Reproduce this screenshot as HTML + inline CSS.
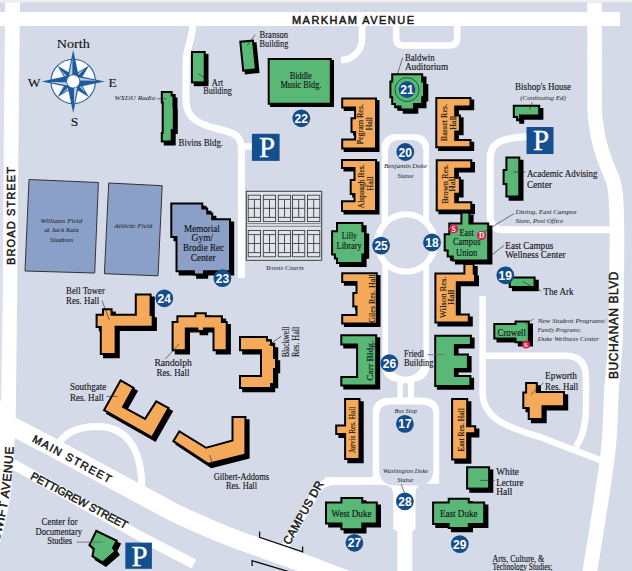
<!DOCTYPE html>
<html><head><meta charset="utf-8">
<style>
html,body{margin:0;padding:0;background:#d5dae9;}
svg{display:block;}
text{font-family:"Liberation Serif",serif;fill:#111;stroke:#111;stroke-width:0.12;}
.st text{font-family:"Liberation Sans",sans-serif;font-weight:normal;fill:#1a1a1a;stroke:#1a1a1a;stroke-width:0.5;}
.it{font-style:italic;}
.g{fill:#59b875;stroke:#000;stroke-width:2;stroke-linejoin:miter;}
.o{fill:#f4aa5a;stroke:#000;stroke-width:2;}
.b{fill:#8b9fc7;stroke:#000;stroke-width:2;}
.sh{fill:#000;}
.bd{fill:#144d89;}
.bt{font-family:"Liberation Sans",sans-serif;font-weight:bold;fill:#fff;stroke:none;font-size:12px;text-anchor:middle;}
.road{fill:none;stroke:#fff;}
.lb{font-size:9.5px;}
.sm text{font-style:italic;stroke:none;fill:#1a1a1a;}
</style></head>
<body>
<svg width="632" height="571" viewBox="0 0 632 571">
<rect x="0" y="0" width="632" height="571" fill="#d5dae9"/>
<rect x="0" y="0" width="632" height="2" fill="#efefef"/>
<rect x="0" y="2" width="632" height="1" fill="#dfe1e8"/>
<rect x="0" y="26" width="5" height="400" fill="#dbdfed"/>

<!-- ROADS -->
<g id="roads" fill="#fff">
  <rect x="0" y="12" width="620" height="14"/>
  <polygon points="5.2,2.4 20,2.4 18.4,150 17.2,290 16,400 15.3,430 13.8,455 12.5,475.5 10.2,498 5.7,521 1.1,539 -3,552 -20,571 -20,420 1.2,400 2.9,290 3.7,150"/>
  
</g>
<g class="road">
  <path d="M594.6,2.8 C594.6,15.0 594.4,79.0 594.6,100.0 C594.8,121.0 595.0,116.3 596.0,124.0 C597.0,131.7 598.4,138.8 600.3,146.0 C602.2,153.2 605.2,160.8 607.5,167.0 C609.8,173.2 612.4,177.5 613.8,183.0 C615.2,188.5 615.5,190.5 616.0,200.0 C616.5,209.5 617.1,216.7 617.0,240.0 C616.9,263.3 616.2,314.7 615.3,340.0 C614.4,365.3 612.7,372.8 611.4,392.0 C610.1,411.2 611.3,425.2 607.7,455.0 C604.1,484.8 593.3,550.2 590.0,571.0 C586.7,591.8 588.3,578.5 588.0,580.0" stroke-width="14.6"/>
  <path d="M362,20 L362,39 A21,21 0 0 1 341,60" stroke-width="6.6"/>
  <path d="M396.2,20 V38 Q396.2,45.5 403.7,45.5 H449.7 Q457.2,45.5 457.2,38 V20" stroke-width="6.5"/>
  <path d="M192.5,26 C192.5,40 186,48 186,62 L186,100 C186,118 198,124 218,129 C236,133 241.4,136 241.4,150 L241.4,278" stroke-width="7"/>
  <path d="M243,146.5 H253" stroke-width="6.5"/>
  <!-- east campus -->
  <path d="M527,136.5 C505,138 490.2,141 490.2,158 V215 Q490.2,229.7 503,229.7 H615" stroke-width="7"/>
  <path d="M482.6,296 V392 C482.6,420 510,428 540,437 L600,460" stroke-width="6.5"/>
  <path d="M485,355.7 H566 Q586,356 586,378 V408 Q586,432 576,447" stroke-width="6.5"/>
  <!-- bottom left -->
  <path d="M-12.0,413.0 C-10.0,414.1 -4.6,417.0 0.0,419.5 C4.6,422.0 7.5,423.8 15.8,428.2 C24.1,432.6 32.6,436.7 50.0,445.9 C67.4,455.1 101.7,473.8 120.0,483.6 C138.3,493.5 150.0,499.7 160.0,505.0 C170.0,510.3 168.3,510.1 180.0,515.4 C191.7,520.7 210.0,529.2 230.0,537.0 C250.0,544.8 280.4,554.8 300.0,562.0 C319.6,569.2 330.8,574.0 347.5,580.0 C364.2,586.0 391.2,595.0 400.0,598.0" stroke-width="18.5"/>
  <path d="M-10,451.5 L20,468 C60,490.5 100,513.5 132.7,532 C150,541.5 172,552.5 194,564" stroke-width="10"/>
  <path d="M58,448 C61,433 78,426.5 98,426.5 C122,426.5 141.8,443 141.8,488" stroke-width="7"/>
  <path d="M282,552.5 L315.2,493.3 Q322,481 336,481 H378" stroke-width="7.6"/>
</g>
<!-- central column -->
<g fill="#fff">
  <path d="M381.7,250 V147.3 A13,13 0 0 1 394.7,134.3 H416 A13,13 0 0 1 429,147.3 V250 Z"/>
  <path d="M382.4,240 V366.7 A15,15 0 0 0 397.4,381.7 V400 H414.1 V381.7 A15,15 0 0 0 429.1,366.7 V240 Z"/>
</g>
<g fill="#d5dae9">
  <path d="M388,250 V150.5 A10.5,10.5 0 0 1 398.5,140 H412.8 A10.5,10.5 0 0 1 423.3,150.5 V250 Z"/>
  <path d="M388,240 V359 A17.65,17.65 0 0 0 423.3,359 V240 Z"/>
</g>
<circle cx="406.1" cy="243" r="28.65" fill="none" stroke="#fff" stroke-width="6.3"/>
<circle cx="406.1" cy="243" r="25.5" fill="#d5dae9"/>
<rect x="402.8" y="382.8" width="5.1" height="16" rx="2.5" fill="#d5dae9"/>
<!-- loop near bus stop -->
<path d="M372.7,412 C372.7,402 380,397.6 392,397.6 H420 C432,397.6 439.2,402 439.2,412 V571 H372.7 Z" fill="#fff"/>
<rect x="325" y="477.1" width="50" height="7.6" fill="#fff"/>
<path d="M379.2,415 C379.2,408 383,404.5 392,404.5 H420.5 C429.5,404.5 433.4,408 433.4,415 V469 Q433.4,485.5 417,485.5 H395.5 Q379.2,485.5 379.2,469 Z" fill="#d5dae9"/>
<path d="M366,484.7 H383.3 Q393.3,484.7 393.3,494.7 V529 L397.4,531.5 V572 H366 Z" fill="#d5dae9"/>
<path d="M446,483.7 H425.5 Q415.5,483.7 415.5,493.7 V529 L412.3,531.5 V572 H446 Z" fill="#d5dae9"/>
<!-- bridge brackets -->
<g fill="none" stroke="#111" stroke-width="1.3">
  <polyline points="259.6,531.5 259.6,537.3 302.6,551.8 302.6,546.5"/>
  <polyline points="252.1,566 252.1,560.7 290,572"/>
</g>

<!-- Tennis courts -->
<g>
  <rect x="246.3" y="191.3" width="75.4" height="69" fill="#e2e4eb" stroke="#3c3c44" stroke-width="1"/>
  <line x1="246.3" y1="223.6" x2="321.7" y2="223.6" stroke="#666" stroke-width="0.8"/>
  <line x1="246.3" y1="226.3" x2="321.7" y2="226.3" stroke="#666" stroke-width="0.8"/>
  <g id="court" fill="none" stroke="#3c3c44" stroke-width="0.9">
    <rect x="248.2" y="195.2" width="12.3" height="26.4"/>
    <line x1="248.2" y1="199.4" x2="260.5" y2="199.4"/>
    <line x1="248.2" y1="208.3" x2="260.5" y2="208.3"/>
    <line x1="248.2" y1="217.4" x2="260.5" y2="217.4"/>
    <line x1="254.4" y1="199.4" x2="254.4" y2="217.4"/>
  </g>
  <use href="#court" x="15.1"/><use href="#court" x="30.1"/><use href="#court" x="44.3"/><use href="#court" x="59.3"/>
  <use href="#court" y="35.2"/><use href="#court" x="15.1" y="35.2"/><use href="#court" x="30.1" y="35.2"/><use href="#court" x="44.3" y="35.2"/><use href="#court" x="59.3" y="35.2"/>
</g>

<!-- fields -->
<polygon points="29,179.5 98.4,182.5 94.7,273 25,271" fill="#8aa0c8" stroke="#333" stroke-width="1"/>
<polygon points="108.7,183 162.2,185.7 158,275.8 104.4,273.7" fill="#8aa0c8" stroke="#333" stroke-width="1"/>

<g fill="#000">
<polygon transform="translate(2.8,2.8)" points="191,51 205.7,51 205.7,83.4 191,83.4"/>
<polygon transform="translate(2.6,2.6)" points="239.2,40.8 253.9,39.6 257,70.3 242.3,71.8"/>
<polygon transform="translate(2.2,2.2)" points="267.7,57.9 331.8,57.9 331.8,104.7 267.7,104.7"/>
<polygon transform="translate(3,3)" points="160.8,91 172.7,91 172.7,94.4 174.5,94.4 174.5,106 174.8,106 174.8,131 172.7,131 172.7,142.5 160.8,142.5 160.8,132 161.7,132 161.7,103.4 160.8,103.4"/>
<polygon transform="translate(3.3,3.3)" points="391.2,73.2 423.2,73.2 423.2,80.6 425,80.6 425,98.3 423.2,98.3 423.2,105 415,105 415,110.5 399.5,110.5 399.5,107.5 394,107.5 394,105 391.2,105 391.2,98.3 389.4,98.3 389.4,80.6 391.2,80.6"/>
<polygon transform="translate(2.5,2.5)" points="341.2,97.6 377,97.6 377,149.5 341.2,149.5 341.2,138.6 354.1,138.6 354.1,133 350.5,133 350.5,117.3 354.1,117.3 354.1,108.5 341.2,108.5"/>
<polygon transform="translate(2.5,2.5)" points="341,159 377,159 377,212 341,212 341,200.2 353.5,200.2 353.5,195 349.7,195 349.7,179 353.5,179 353.5,169 341,169"/>
<polygon transform="translate(2.7,2.7)" points="341.2,272.3 377.8,272.3 377.8,324.4 341.2,324.4 341.2,314.1 355.5,314.1 355.5,307.5 352.3,307.5 352.3,291.9 355.5,291.9 355.5,283 341.2,283"/>
<polygon transform="translate(3,3)" points="340.3,334.3 377.2,334.3 377.2,386.4 340.3,386.4 340.3,376.1 356.1,376.1 356.1,345.6 340.3,345.6"/>
<polygon transform="translate(2.7,2.7)" points="435.3,96.9 471.5,96.9 471.5,107.5 456.2,107.5 456.2,114.5 460.9,114.5 460.9,132.5 456.2,132.5 456.2,139 471.5,139 471.5,148.2 435.3,148.2"/>
<polygon transform="translate(2.7,2.7)" points="435.7,159.2 472.3,159.2 472.3,169.8 456.2,169.8 456.2,176.8 460.9,176.8 460.9,194.8 456.2,194.8 456.2,201.3 472.3,201.3 472.3,211.6 435.7,211.6"/>
<polygon transform="translate(3.2,3.2)" points="460.4,211.6 470.4,211.6 470.4,222.4 489.2,222.4 489.2,261.4 451.7,261.4 451.7,257.5 446.7,257.5 446.7,251.6 443.7,251.6 443.7,233.2 448.3,233.2 448.3,222.4 460.4,222.4"/>
<polygon transform="translate(3,3)" points="463.4,263 474.7,263 474.7,272.5 476,272.5 476,283.3 457.8,283.3 457.8,313.4 469.8,313.4 469.8,323.6 434.4,323.6 434.4,272.5 463.4,272.5"/>
<polygon transform="translate(2.7,2.7)" points="434.2,334.7 471.9,334.7 471.9,345.9 455.9,345.9 455.9,353.4 468.9,353.4 468.9,369.9 455.9,369.9 455.9,375 471.4,375 471.4,387.1 434.2,387.1"/>
<polygon transform="translate(3.2,3.2)" points="336,222.1 363.4,222.1 363.4,230.2 366,230.2 366,255.5 363.4,255.5 363.4,263.9 336,263.9 336,259.5 333.9,259.5 333.9,255.5 331.1,255.5 331.1,230.2 336,230.2"/>
<polygon transform="translate(3.2,3.2)" points="344.1,398.1 360.5,398.1 360.5,460.1 344.1,460.1 344.1,434.9 335.2,434.9 335.2,424.4 344.1,424.4"/>
<polygon transform="translate(3.2,3.2)" points="451.1,398.1 468.2,398.1 468.2,425.3 476.2,425.3 476.2,434.3 468.2,434.3 468.2,460.5 451.1,460.5"/>
<polygon transform="translate(3.2,3.2)" points="466.1,466.2 490.1,466.2 490.1,489.6 466.1,489.6"/>
<polygon transform="translate(3.2,3.2)" points="340.4,497.1 363.3,497.1 363.3,501.4 377.8,501.4 377.8,524.4 363.3,524.4 363.3,530.3 340.4,530.3 340.4,524.4 325,524.4 325,501.4 340.4,501.4"/>
<polygon transform="translate(3.2,3.2)" points="447.7,497.8 469.8,497.8 469.8,501.4 485.2,501.4 485.2,524.9 469.8,524.9 469.8,529.1 447.7,529.1 447.7,524.9 432.1,524.9 432.1,501.4 447.7,501.4"/>
<polygon transform="translate(3.2,3.2)" points="493.3,322.9 514.6,322.9 514.6,320.4 529.8,320.4 529.8,343.2 514.6,343.2 514.6,339.4 493.3,339.4"/>
<polygon transform="translate(3.2,3.2)" points="508.7,276.5 535.6,276.5 535.6,288 508.7,288"/>
<polygon transform="translate(3.2,3.2)" points="512.8,104.7 540.2,104.7 540.2,116.5 521,116.5 521,120.5 516,120.5 516,118 512.8,118"/>
<polygon transform="translate(3.2,3.2)" points="505.4,156.6 520.3,156.6 520.3,197.5 505.4,197.5 505.4,185 502.6,185 502.6,169 505.4,169"/>
<polygon transform="translate(3.2,3.2)" points="525.1,382.1 537.8,382.1 537.8,391 565,391 565,407.3 543.5,407.3 543.5,420 527.7,420 527.7,409 522.3,409 522.3,391.6 525.1,391.6"/>
<polygon transform="translate(3.2,3.2)" points="170.3,202.5 203.3,202.5 203.3,207.5 208.2,207.5 208.2,212.5 213.2,212.5 213.2,218.3 231,218.3 231,272.3 205,272.3 205,275.5 192.9,275.5 192.9,272.3 175.5,272.3 175.5,238.1 170.3,238.1"/>
<polygon transform="translate(3.2,3.2)" points="134.8,293.4 151.6,293.4 151.6,314 153.7,314 153.7,327.7 116.6,327.7 116.6,355 99.8,355 99.8,328 95.6,328 95.6,313.7 102,313.7 102,308.2 112.6,308.2 112.6,313.7 134.8,313.7"/>
<polygon transform="translate(3.2,3.2)" points="176.4,315.2 194.4,315.2 194.4,312.3 206.8,312.3 206.8,315.2 222.9,315.2 222.9,320.9 227.7,320.9 227.7,351.3 212.5,351.3 212.5,329.4 205,329.4 205,332 196.4,332 196.4,329.4 186.8,329.4 186.8,351.3 171.6,351.3 171.6,320.9 176.4,320.9"/>
<polygon transform="translate(3.2,3.2)" points="239,336 268,336 268,339.5 272,339.5 272,344 275,344 275,357 277,357 277,370 275,370 275,385 272,385 272,389 239,389 239,375 260,375 260,351.3 239,351.3"/>
<polygon transform="translate(3.2,3.2)" points="120.2,379.1 134.9,387.5 124.4,406.4 144.7,417.6 155.9,400.1 170,407.8 152.4,438.7 102.7,410.6"/>
<polygon transform="translate(3.2,3.2)" points="179,430 206.2,446.7 231.5,439.7 231.5,416 246.4,416 246.4,455.4 208,465 172,441.4"/>
<polygon transform="translate(3.2,3.2)" points="95.8,529.6 118,540.3 114.2,547.9 116.7,551.7 102.8,563.7 91.4,556.8 92.7,549.2 88.2,545.4"/>
</g>
<g>
<polygon fill="#000" points="191,51 205.7,51 205.7,83.4 191,83.4"/>
<polygon fill="#59b875" points="193.00,53.00 193.00,81.40 203.70,81.40 203.70,53.00"/>
<polygon fill="#000" points="239.2,40.8 253.9,39.6 257,70.3 242.3,71.8"/>
<polygon fill="#59b875" points="241.39,42.63 244.09,69.61 254.81,68.51 252.11,41.75"/>
<polygon fill="#000" points="267.7,57.9 331.8,57.9 331.8,104.7 267.7,104.7"/>
<polygon fill="#59b875" points="269.70,59.90 269.70,102.70 329.80,102.70 329.80,59.90"/>
<polygon fill="#000" points="160.8,91 172.7,91 172.7,94.4 174.5,94.4 174.5,106 174.8,106 174.8,131 172.7,131 172.7,142.5 160.8,142.5 160.8,132 161.7,132 161.7,103.4 160.8,103.4"/>
<polygon fill="#59b875" points="162.80,93.00 162.80,101.40 163.70,101.40 163.70,134.00 162.80,134.00 162.80,140.50 170.70,140.50 170.70,129.00 172.80,129.00 172.80,108.00 172.50,108.00 172.50,96.40 170.70,96.40 170.70,93.00"/>
<polygon fill="#000" points="391.2,73.2 423.2,73.2 423.2,80.6 425,80.6 425,98.3 423.2,98.3 423.2,105 415,105 415,110.5 399.5,110.5 399.5,107.5 394,107.5 394,105 391.2,105 391.2,98.3 389.4,98.3 389.4,80.6 391.2,80.6"/>
<polygon fill="#59b875" points="391.40,82.60 391.40,96.30 393.20,96.30 393.20,103.00 396.00,103.00 396.00,105.50 401.50,105.50 401.50,108.50 413.00,108.50 413.00,103.00 421.20,103.00 421.20,96.30 423.00,96.30 423.00,82.60 421.20,82.60 421.20,75.20 393.20,75.20 393.20,82.60"/>
<polygon fill="#000" points="341.2,97.6 377,97.6 377,149.5 341.2,149.5 341.2,138.6 354.1,138.6 354.1,133 350.5,133 350.5,117.3 354.1,117.3 354.1,108.5 341.2,108.5"/>
<polygon fill="#f4aa5a" points="343.20,99.60 343.20,106.50 356.10,106.50 356.10,119.30 352.50,119.30 352.50,131.00 356.10,131.00 356.10,140.60 343.20,140.60 343.20,147.50 375.00,147.50 375.00,99.60"/>
<polygon fill="#000" points="341,159 377,159 377,212 341,212 341,200.2 353.5,200.2 353.5,195 349.7,195 349.7,179 353.5,179 353.5,169 341,169"/>
<polygon fill="#f4aa5a" points="343.00,161.00 343.00,167.00 355.50,167.00 355.50,181.00 351.70,181.00 351.70,193.00 355.50,193.00 355.50,202.20 343.00,202.20 343.00,210.00 375.00,210.00 375.00,161.00"/>
<polygon fill="#000" points="341.2,272.3 377.8,272.3 377.8,324.4 341.2,324.4 341.2,314.1 355.5,314.1 355.5,307.5 352.3,307.5 352.3,291.9 355.5,291.9 355.5,283 341.2,283"/>
<polygon fill="#f4aa5a" points="343.20,274.30 343.20,281.00 357.50,281.00 357.50,293.90 354.30,293.90 354.30,305.50 357.50,305.50 357.50,316.10 343.20,316.10 343.20,322.40 375.80,322.40 375.80,274.30"/>
<polygon fill="#000" points="340.3,334.3 377.2,334.3 377.2,386.4 340.3,386.4 340.3,376.1 356.1,376.1 356.1,345.6 340.3,345.6"/>
<polygon fill="#59b875" points="342.30,336.30 342.30,343.60 358.10,343.60 358.10,378.10 342.30,378.10 342.30,384.40 375.20,384.40 375.20,336.30"/>
<polygon fill="#000" points="435.3,96.9 471.5,96.9 471.5,107.5 456.2,107.5 456.2,114.5 460.9,114.5 460.9,132.5 456.2,132.5 456.2,139 471.5,139 471.5,148.2 435.3,148.2"/>
<polygon fill="#f4aa5a" points="437.30,98.90 437.30,146.20 469.50,146.20 469.50,141.00 454.20,141.00 454.20,130.50 458.90,130.50 458.90,116.50 454.20,116.50 454.20,105.50 469.50,105.50 469.50,98.90"/>
<polygon fill="#000" points="435.7,159.2 472.3,159.2 472.3,169.8 456.2,169.8 456.2,176.8 460.9,176.8 460.9,194.8 456.2,194.8 456.2,201.3 472.3,201.3 472.3,211.6 435.7,211.6"/>
<polygon fill="#f4aa5a" points="437.70,161.20 437.70,209.60 470.30,209.60 470.30,203.30 454.20,203.30 454.20,192.80 458.90,192.80 458.90,178.80 454.20,178.80 454.20,167.80 470.30,167.80 470.30,161.20"/>
<polygon fill="#000" points="460.4,211.6 470.4,211.6 470.4,222.4 489.2,222.4 489.2,261.4 451.7,261.4 451.7,257.5 446.7,257.5 446.7,251.6 443.7,251.6 443.7,233.2 448.3,233.2 448.3,222.4 460.4,222.4"/>
<polygon fill="#59b875" points="462.40,213.60 462.40,224.40 450.30,224.40 450.30,235.20 445.70,235.20 445.70,249.60 448.70,249.60 448.70,255.50 453.70,255.50 453.70,259.40 487.20,259.40 487.20,224.40 468.40,224.40 468.40,213.60"/>
<polygon fill="#000" points="463.4,263 474.7,263 474.7,272.5 476,272.5 476,283.3 457.8,283.3 457.8,313.4 469.8,313.4 469.8,323.6 434.4,323.6 434.4,272.5 463.4,272.5"/>
<polygon fill="#f4aa5a" points="465.40,265.00 465.40,274.50 436.40,274.50 436.40,321.60 467.80,321.60 467.80,315.40 455.80,315.40 455.80,281.30 474.00,281.30 474.00,274.50 472.70,274.50 472.70,265.00"/>
<polygon fill="#000" points="434.2,334.7 471.9,334.7 471.9,345.9 455.9,345.9 455.9,353.4 468.9,353.4 468.9,369.9 455.9,369.9 455.9,375 471.4,375 471.4,387.1 434.2,387.1"/>
<polygon fill="#59b875" points="436.20,336.70 436.20,385.10 469.40,385.10 469.40,377.00 453.90,377.00 453.90,367.90 466.90,367.90 466.90,355.40 453.90,355.40 453.90,343.90 469.90,343.90 469.90,336.70"/>
<polygon fill="#000" points="336,222.1 363.4,222.1 363.4,230.2 366,230.2 366,255.5 363.4,255.5 363.4,263.9 336,263.9 336,259.5 333.9,259.5 333.9,255.5 331.1,255.5 331.1,230.2 336,230.2"/>
<polygon fill="#59b875" points="338.00,224.10 338.00,232.20 333.10,232.20 333.10,253.50 335.90,253.50 335.90,257.50 338.00,257.50 338.00,261.90 361.40,261.90 361.40,253.50 364.00,253.50 364.00,232.20 361.40,232.20 361.40,224.10"/>
<polygon fill="#000" points="344.1,398.1 360.5,398.1 360.5,460.1 344.1,460.1 344.1,434.9 335.2,434.9 335.2,424.4 344.1,424.4"/>
<polygon fill="#f4aa5a" points="346.10,400.10 346.10,426.40 337.20,426.40 337.20,432.90 346.10,432.90 346.10,458.10 358.50,458.10 358.50,400.10"/>
<polygon fill="#000" points="451.1,398.1 468.2,398.1 468.2,425.3 476.2,425.3 476.2,434.3 468.2,434.3 468.2,460.5 451.1,460.5"/>
<polygon fill="#f4aa5a" points="453.10,400.10 453.10,458.50 466.20,458.50 466.20,432.30 474.20,432.30 474.20,427.30 466.20,427.30 466.20,400.10"/>
<polygon fill="#000" points="466.1,466.2 490.1,466.2 490.1,489.6 466.1,489.6"/>
<polygon fill="#59b875" points="468.10,468.20 468.10,487.60 488.10,487.60 488.10,468.20"/>
<polygon fill="#000" points="340.4,497.1 363.3,497.1 363.3,501.4 377.8,501.4 377.8,524.4 363.3,524.4 363.3,530.3 340.4,530.3 340.4,524.4 325,524.4 325,501.4 340.4,501.4"/>
<polygon fill="#59b875" points="342.40,499.10 342.40,503.40 327.00,503.40 327.00,522.40 342.40,522.40 342.40,528.30 361.30,528.30 361.30,522.40 375.80,522.40 375.80,503.40 361.30,503.40 361.30,499.10"/>
<polygon fill="#000" points="447.7,497.8 469.8,497.8 469.8,501.4 485.2,501.4 485.2,524.9 469.8,524.9 469.8,529.1 447.7,529.1 447.7,524.9 432.1,524.9 432.1,501.4 447.7,501.4"/>
<polygon fill="#59b875" points="449.70,499.80 449.70,503.40 434.10,503.40 434.10,522.90 449.70,522.90 449.70,527.10 467.80,527.10 467.80,522.90 483.20,522.90 483.20,503.40 467.80,503.40 467.80,499.80"/>
<polygon fill="#000" points="493.3,322.9 514.6,322.9 514.6,320.4 529.8,320.4 529.8,343.2 514.6,343.2 514.6,339.4 493.3,339.4"/>
<polygon fill="#59b875" points="495.30,324.90 495.30,337.40 516.60,337.40 516.60,341.20 527.80,341.20 527.80,322.40 516.60,322.40 516.60,324.90"/>
<polygon fill="#000" points="508.7,276.5 535.6,276.5 535.6,288 508.7,288"/>
<polygon fill="#59b875" points="510.70,278.50 510.70,286.00 533.60,286.00 533.60,278.50"/>
<polygon fill="#000" points="512.8,104.7 540.2,104.7 540.2,116.5 521,116.5 521,120.5 516,120.5 516,118 512.8,118"/>
<polygon fill="#59b875" points="514.80,106.70 514.80,116.00 518.00,116.00 518.00,118.50 519.00,118.50 519.00,114.50 538.20,114.50 538.20,106.70"/>
<polygon fill="#000" points="505.4,156.6 520.3,156.6 520.3,197.5 505.4,197.5 505.4,185 502.6,185 502.6,169 505.4,169"/>
<polygon fill="#59b875" points="507.40,158.60 507.40,171.00 504.60,171.00 504.60,183.00 507.40,183.00 507.40,195.50 518.30,195.50 518.30,158.60"/>
<polygon fill="#000" points="525.1,382.1 537.8,382.1 537.8,391 565,391 565,407.3 543.5,407.3 543.5,420 527.7,420 527.7,409 522.3,409 522.3,391.6 525.1,391.6"/>
<polygon fill="#f4aa5a" points="527.10,384.10 527.10,393.60 524.30,393.60 524.30,407.00 529.70,407.00 529.70,418.00 541.50,418.00 541.50,405.30 563.00,405.30 563.00,393.00 535.80,393.00 535.80,384.10"/>
<polygon fill="#000" points="170.3,202.5 203.3,202.5 203.3,207.5 208.2,207.5 208.2,212.5 213.2,212.5 213.2,218.3 231,218.3 231,272.3 205,272.3 205,275.5 192.9,275.5 192.9,272.3 175.5,272.3 175.5,238.1 170.3,238.1"/>
<polygon fill="#8b9fc7" points="172.30,204.50 172.30,236.10 177.50,236.10 177.50,270.30 194.90,270.30 194.90,273.50 203.00,273.50 203.00,270.30 229.00,270.30 229.00,220.30 211.20,220.30 211.20,214.50 206.20,214.50 206.20,209.50 201.30,209.50 201.30,204.50"/>
<polygon fill="#000" points="134.8,293.4 151.6,293.4 151.6,314 153.7,314 153.7,327.7 116.6,327.7 116.6,355 99.8,355 99.8,328 95.6,328 95.6,313.7 102,313.7 102,308.2 112.6,308.2 112.6,313.7 134.8,313.7"/>
<polygon fill="#f4aa5a" points="136.80,295.40 136.80,315.70 110.60,315.70 110.60,310.20 104.00,310.20 104.00,315.70 97.60,315.70 97.60,326.00 101.80,326.00 101.80,353.00 114.60,353.00 114.60,325.70 151.70,325.70 151.70,316.00 149.60,316.00 149.60,295.40"/>
<polygon fill="#000" points="176.4,315.2 194.4,315.2 194.4,312.3 206.8,312.3 206.8,315.2 222.9,315.2 222.9,320.9 227.7,320.9 227.7,351.3 212.5,351.3 212.5,329.4 205,329.4 205,332 196.4,332 196.4,329.4 186.8,329.4 186.8,351.3 171.6,351.3 171.6,320.9 176.4,320.9"/>
<polygon fill="#f4aa5a" points="178.40,317.20 178.40,322.90 173.60,322.90 173.60,349.30 184.80,349.30 184.80,327.40 198.40,327.40 198.40,330.00 203.00,330.00 203.00,327.40 214.50,327.40 214.50,349.30 225.70,349.30 225.70,322.90 220.90,322.90 220.90,317.20 204.80,317.20 204.80,314.30 196.40,314.30 196.40,317.20"/>
<polygon fill="#000" points="239,336 268,336 268,339.5 272,339.5 272,344 275,344 275,357 277,357 277,370 275,370 275,385 272,385 272,389 239,389 239,375 260,375 260,351.3 239,351.3"/>
<polygon fill="#f4aa5a" points="241.00,338.00 241.00,349.30 262.00,349.30 262.00,377.00 241.00,377.00 241.00,387.00 270.00,387.00 270.00,383.00 273.00,383.00 273.00,368.00 275.00,368.00 275.00,359.00 273.00,359.00 273.00,346.00 270.00,346.00 270.00,341.50 266.00,341.50 266.00,338.00"/>
<polygon fill="#000" points="120.2,379.1 134.9,387.5 124.4,406.4 144.7,417.6 155.9,400.1 170,407.8 152.4,438.7 102.7,410.6"/>
<polygon fill="#f4aa5a" points="120.97,381.84 105.41,409.84 151.65,435.98 167.25,408.58 156.58,402.75 145.37,420.26 121.68,407.18 132.19,388.26"/>
<polygon fill="#000" points="179,430 206.2,446.7 231.5,439.7 231.5,416 246.4,416 246.4,455.4 208,465 172,441.4"/>
<polygon fill="#f4aa5a" points="179.66,432.75 174.72,440.79 208.36,462.85 244.40,453.84 244.40,418.00 233.50,418.00 233.50,441.22 205.89,448.86"/>
<polygon fill="#000" points="95.8,529.6 118,540.3 114.2,547.9 116.7,551.7 102.8,563.7 91.4,556.8 92.7,549.2 88.2,545.4"/>
<polygon fill="#59b875" points="96.73,532.27 90.67,544.87 94.86,548.41 93.60,555.79 102.59,561.24 114.06,551.33 111.90,548.04 115.30,541.22"/>
</g>

<!-- Baldwin ring -->
<circle cx="407" cy="89.6" r="12" fill="none" stroke="#1d5e30" stroke-width="1"/>

<!-- Parking -->
<g>
  <rect x="251.9" y="133.8" width="27.7" height="27.1" fill="#14508f"/>
  <rect x="526.5" y="127" width="27" height="27" fill="#14508f"/>
  <rect x="125.3" y="542.6" width="26.6" height="26.2" fill="#14508f"/>
  <g font-size="29" text-anchor="middle">
    <text x="267" y="157" style="fill:#fff;stroke:#fff;stroke-width:0.3">P</text>
    <text x="541" y="150.2" style="fill:#fff;stroke:#fff;stroke-width:0.3">P</text>
    <text x="139.5" y="565.6" style="fill:#fff;stroke:#fff;stroke-width:0.3">P</text>
  </g>
</g>

<!-- Badges -->
<g>
  <circle class="bd" cx="301.3" cy="118.3" r="8.9"/><text class="bt" x="301.3" y="122.8">22</text>
  <circle class="bd" cx="407" cy="89.6" r="8.4"/><text class="bt" x="407" y="94.1">21</text>
  <circle class="bd" cx="405.3" cy="152" r="8.9"/><text class="bt" x="405.3" y="156.5">20</text>
  <circle class="bd" cx="381.1" cy="245.6" r="8.9"/><text class="bt" x="381.1" y="250.1">25</text>
  <circle class="bd" cx="432" cy="242.5" r="8.9"/><text class="bt" x="432" y="247.0">18</text>
  <circle class="bd" cx="505.3" cy="275.3" r="8.9"/><text class="bt" x="505.3" y="279.8">19</text>
  <circle class="bd" cx="222.4" cy="278.2" r="8.9"/><text class="bt" x="222.4" y="282.7">23</text>
  <circle class="bd" cx="164.3" cy="298.3" r="8.9"/><text class="bt" x="164.3" y="302.8">24</text>
  <circle class="bd" cx="389.4" cy="363.2" r="8.9"/><text class="bt" x="389.4" y="367.7">26</text>
  <circle class="bd" cx="404.9" cy="423.9" r="8.9"/><text class="bt" x="404.9" y="428.4">17</text>
  <circle class="bd" cx="404.9" cy="501.3" r="8.9"/><text class="bt" x="404.9" y="505.8">28</text>
  <circle class="bd" cx="354.4" cy="542.8" r="8.9"/><text class="bt" x="354.4" y="547.3">27</text>
  <circle class="bd" cx="459.8" cy="544.1" r="8.9"/><text class="bt" x="459.8" y="548.6">29</text>
</g>

<!-- Street names -->
<g class="st">
<text x="292" y="24" font-size="11" textLength="122" lengthAdjust="spacing">MARKHAM AVENUE</text>
<text font-size="11" transform="translate(15.2,265) rotate(-90)" textLength="98" lengthAdjust="spacing">BROAD STREET</text>
<text font-size="12" transform="translate(617.9,379) rotate(-90)" textLength="107.5" lengthAdjust="spacing">BUCHANAN BLVD</text>
<path id="swp" d="M-4,552 C4,525 12,490 13.6,446" fill="none"/><text font-size="12" letter-spacing="0.7"><textPath href="#swp" startOffset="100%" text-anchor="end">SWIFT AVENUE</textPath></text>
<text font-size="11" transform="translate(31.5,441.2) rotate(28.5)" textLength="88" lengthAdjust="spacing">MAIN STREET</text>
<text font-size="11" transform="translate(29.8,478.5) rotate(28)" textLength="108" lengthAdjust="spacing">PETTIGREW STREET</text>
<text font-size="11.5" transform="translate(289.4,545.4) rotate(-60.8)" textLength="70.5" lengthAdjust="spacing">CAMPUS DR</text>
</g>

<!-- Compass -->
<g transform="translate(73.2,81.4)">
  <circle r="22.2" fill="#f7f9fc" stroke="#24609c" stroke-width="1.1"/>
  <g id="cpd">
    <polygon points="0,-22.2 4.6,-4.5 0,-1 -4.6,-4.5" fill="#1f5b98"/>
    <polygon points="-0.6,-17 -3.2,-5.5 -0.8,-4" fill="#b8cee6"/>
  </g>
  <use href="#cpd" transform="rotate(45)"/><use href="#cpd" transform="rotate(135)"/><use href="#cpd" transform="rotate(225)"/><use href="#cpd" transform="rotate(315)"/>
  <g id="cpl">
    <polygon points="0,-31.5 5.6,-5 0,-1 -5.6,-5" fill="#1f5b98"/>
    <polygon points="-0.7,-24 -4,-6 -0.9,-5" fill="#b8cee6"/>
  </g>
  <use href="#cpl" transform="rotate(90)"/><use href="#cpl" transform="rotate(180)"/><use href="#cpl" transform="rotate(270)"/>
  <circle r="6.6" fill="#fff" stroke="#1f5b98" stroke-width="0.8"/>
</g>
<g font-size="13.5">
<text x="73.3" y="48" text-anchor="middle" textLength="33" lengthAdjust="spacingAndGlyphs">North</text>
<text x="34" y="87.3" text-anchor="middle">W</text>
<text x="112.5" y="87.3" text-anchor="middle">E</text>
<text x="74.5" y="125.8" text-anchor="middle">S</text>
</g>

<!-- Labels -->
<g class="lb" font-size="9.5">
<text x="178.6" y="146" textLength="44.4" lengthAdjust="spacingAndGlyphs">Bivins Bldg.</text>
<text x="211.8" y="85.5" textLength="11.3" lengthAdjust="spacingAndGlyphs">Art</text>
<text x="203.2" y="93.7" textLength="28.8" lengthAdjust="spacingAndGlyphs">Building</text>
<text x="259.6" y="38" textLength="28.4" lengthAdjust="spacingAndGlyphs">Branson</text>
<text x="259.6" y="46.6" textLength="28.7" lengthAdjust="spacingAndGlyphs">Building</text>
<text x="289.7" y="79" textLength="22.1" lengthAdjust="spacingAndGlyphs">Biddle</text>
<text x="280.5" y="87.7" textLength="40.9" lengthAdjust="spacingAndGlyphs">Music Bldg.</text>
<text x="404.9" y="60.8" textLength="29.7" lengthAdjust="spacingAndGlyphs">Baldwin</text>
<text x="404.9" y="69.7" textLength="43.3" lengthAdjust="spacingAndGlyphs">Auditorium</text>
<text x="515.1" y="90.4" textLength="56" lengthAdjust="spacingAndGlyphs">Bishop's House</text>
<text x="526.9" y="176.8" textLength="70.6" lengthAdjust="spacingAndGlyphs">Academic Advising</text>
<text x="526.9" y="187.6" textLength="25.1" lengthAdjust="spacingAndGlyphs">Center</text>
<text x="505.3" y="248.8" textLength="48" lengthAdjust="spacingAndGlyphs">East Campus</text>
<text x="505.3" y="258" textLength="60.3" lengthAdjust="spacingAndGlyphs">Wellness Center</text>
<text x="543.5" y="295" textLength="30" lengthAdjust="spacingAndGlyphs">The Ark</text>
<text x="545.1" y="379.2" textLength="31.9" lengthAdjust="spacingAndGlyphs">Epworth</text>
<text x="545.1" y="390" textLength="33.2" lengthAdjust="spacingAndGlyphs">Res. Hall</text>
<text x="404" y="357" textLength="20" lengthAdjust="spacingAndGlyphs">Friedl</text>
<text x="404" y="365.5" textLength="29.5" lengthAdjust="spacingAndGlyphs">Building</text>
<text x="496.2" y="475.3" textLength="22.8" lengthAdjust="spacingAndGlyphs">White</text>
<text x="496.2" y="485.5" textLength="27.2" lengthAdjust="spacingAndGlyphs">Lecture</text>
<text x="496.2" y="494.6" textLength="16.2" lengthAdjust="spacingAndGlyphs">Hall</text>
<text x="492.5" y="561.5" textLength="51.8" lengthAdjust="spacingAndGlyphs">Arts, Culture, &amp;</text>
<text x="492.5" y="570.3" textLength="60" lengthAdjust="spacingAndGlyphs">Technology Studies;</text>
<text x="66.1" y="293.8" textLength="38.7" lengthAdjust="spacingAndGlyphs">Bell Tower</text>
<text x="66.1" y="303.8" textLength="33.2" lengthAdjust="spacingAndGlyphs">Res. Hall</text>
<text x="154.4" y="366.2" textLength="37.5" lengthAdjust="spacingAndGlyphs">Randolph</text>
<text x="156.5" y="376" textLength="32.9" lengthAdjust="spacingAndGlyphs">Res. Hall</text>
<text x="70" y="389.6" textLength="36.3" lengthAdjust="spacingAndGlyphs">Southgate</text>
<text x="70" y="401" textLength="33.7" lengthAdjust="spacingAndGlyphs">Res. Hall</text>
<text x="213.7" y="480.2" textLength="55.3" lengthAdjust="spacingAndGlyphs">Gilbert-Addoms</text>
<text x="226" y="489.2" textLength="31" lengthAdjust="spacingAndGlyphs">Res. Hall</text>
<text x="41.6" y="525" textLength="36" lengthAdjust="spacingAndGlyphs">Center for</text>
<text x="35.5" y="534.6" textLength="46.5" lengthAdjust="spacingAndGlyphs">Documentary</text>
<text x="47.2" y="543.8" textLength="24.9" lengthAdjust="spacingAndGlyphs">Studies</text>
<text x="184.1" y="232.3" textLength="35.8" lengthAdjust="spacingAndGlyphs">Memorial</text>
<text x="191.6" y="241.3" textLength="21.6" lengthAdjust="spacingAndGlyphs">Gym/</text>
<text x="183" y="251.4" textLength="41" lengthAdjust="spacingAndGlyphs">Brodie Rec</text>
<text x="190.8" y="260.6" textLength="24.9" lengthAdjust="spacingAndGlyphs">Center</text>
<text x="341.8" y="238.8" textLength="15.2" lengthAdjust="spacingAndGlyphs">Lilly</text>
<text x="336.6" y="248.8" textLength="25.2" lengthAdjust="spacingAndGlyphs">Library</text>
<text x="459.6" y="236.3" textLength="14.1" lengthAdjust="spacingAndGlyphs">East</text>
<text x="452.9" y="245.2" textLength="27.6" lengthAdjust="spacingAndGlyphs">Campus</text>
<text x="456" y="255.9" textLength="21.4" lengthAdjust="spacingAndGlyphs">Union</text>
<text x="331.6" y="517.2" textLength="39.9" lengthAdjust="spacingAndGlyphs">West Duke</text>
<text x="439.9" y="517" textLength="37.7" lengthAdjust="spacingAndGlyphs">East Duke</text>
<text x="497.5" y="335.6" font-size="10.5" textLength="28.5" lengthAdjust="spacingAndGlyphs">Crowell</text>
</g>
<!-- small italic -->
<g class="sm" font-size="6.8">
<text x="114.4" y="100" textLength="41" lengthAdjust="spacingAndGlyphs">WXDU Radio</text>
<text x="520.2" y="100.3" textLength="45.6" lengthAdjust="spacingAndGlyphs">(Continuing Ed)</text>
<text x="515.5" y="213.7" textLength="61.1" lengthAdjust="spacingAndGlyphs">Dining, East Campus</text>
<text x="515.5" y="222.7" textLength="47.8" lengthAdjust="spacingAndGlyphs">Store, Post Office</text>
<text x="537.7" y="322.8" textLength="68" lengthAdjust="spacingAndGlyphs">New Student Programs/</text>
<text x="537.7" y="331.6" textLength="43.3" lengthAdjust="spacingAndGlyphs">Family Programs;</text>
<text x="537.7" y="341" textLength="61.3" lengthAdjust="spacingAndGlyphs">Duke Wellness Center</text>
<text x="394.5" y="412.7" textLength="22.3" lengthAdjust="spacingAndGlyphs">Bus Stop</text>
<text x="383.1" y="472.6" textLength="45.1" lengthAdjust="spacingAndGlyphs">Washington Duke</text>
<text x="397.3" y="481.5" textLength="16.2" lengthAdjust="spacingAndGlyphs">Statue</text>
<text x="384" y="168" textLength="43" lengthAdjust="spacingAndGlyphs">Benjamin Duke</text>
<text x="397.5" y="177.5" textLength="16" lengthAdjust="spacingAndGlyphs">Statue</text>
<text x="265.4" y="270" textLength="38.4" lengthAdjust="spacingAndGlyphs">Tennis Courts</text>
<text x="40.6" y="222.6" textLength="41.5" lengthAdjust="spacingAndGlyphs">Williams Field</text>
<text x="44.4" y="231.8" textLength="34.3" lengthAdjust="spacingAndGlyphs">at Jack Katz</text>
<text x="50" y="241.6" textLength="23.2" lengthAdjust="spacingAndGlyphs">Stadium</text>
<text x="114.2" y="227.8" textLength="38.1" lengthAdjust="spacingAndGlyphs">Athletic Field</text>
</g>
<!-- rotated hall labels -->
<g font-size="8.8">
<text text-anchor="middle" transform="translate(363,124.2) rotate(-90)" textLength="40.5" lengthAdjust="spacingAndGlyphs">Pegram Res.</text>
<text text-anchor="middle" transform="translate(372.3,123.6) rotate(-90)" textLength="13.2" lengthAdjust="spacingAndGlyphs">Hall</text>
<text text-anchor="middle" transform="translate(363.5,186.3) rotate(-90)" textLength="43.8" lengthAdjust="spacingAndGlyphs">Alspaugh Res.</text>
<text text-anchor="middle" transform="translate(372.7,183.6) rotate(-90)" textLength="14.2" lengthAdjust="spacingAndGlyphs">Hall</text>
<text text-anchor="middle" transform="translate(374.5,298.6) rotate(-90)" textLength="48.5" lengthAdjust="spacingAndGlyphs">Giles Res. Hall</text>
<text text-anchor="middle" transform="translate(373.3,360.7) rotate(-90)" textLength="40.2" lengthAdjust="spacingAndGlyphs">Carr Bldg.</text>
<text text-anchor="middle" transform="translate(446.8,122.5) rotate(-90)" textLength="37.3" lengthAdjust="spacingAndGlyphs">Basset Res.</text>
<text text-anchor="middle" transform="translate(456.3,122.8) rotate(-90)" textLength="13.7" lengthAdjust="spacingAndGlyphs">Hall</text>
<text text-anchor="middle" transform="translate(447.5,184) rotate(-90)" textLength="39.5" lengthAdjust="spacingAndGlyphs">Brown Res.</text>
<text text-anchor="middle" transform="translate(455.4,184) rotate(-90)" textLength="15.3" lengthAdjust="spacingAndGlyphs">Hall</text>
<text text-anchor="middle" transform="translate(446.4,297.2) rotate(-90)" textLength="41.4" lengthAdjust="spacingAndGlyphs">Wilson Res.</text>
<text text-anchor="middle" transform="translate(454,297.2) rotate(-90)" textLength="15.4" lengthAdjust="spacingAndGlyphs">Hall</text>
<text text-anchor="middle" transform="translate(355,429.7) rotate(-90)" textLength="46.1" lengthAdjust="spacingAndGlyphs">Jarvis Res. Hall</text>
<text text-anchor="middle" transform="translate(464,429.8) rotate(-90)" textLength="43.2" lengthAdjust="spacingAndGlyphs">East Res. Hall</text>
<text text-anchor="end" transform="translate(288.7,326.7) rotate(90)" textLength="30.4" lengthAdjust="spacingAndGlyphs"></text>
</g>
<g font-size="9.5">
<text transform="translate(288.7,357.1) rotate(-90)" textLength="30.4" lengthAdjust="spacingAndGlyphs">Blackwell</text>
<text transform="translate(298.9,357.1) rotate(-90)" textLength="30.4" lengthAdjust="spacingAndGlyphs">Res. Hall</text>
</g>
<!-- leader lines -->
<g stroke="#222" stroke-width="0.6" fill="none">
<line x1="157" y1="98.8" x2="166.5" y2="98.8"/>
<line x1="255.2" y1="34.6" x2="247.4" y2="45.5"/>
<line x1="402.7" y1="57.7" x2="397" y2="75.4"/>
<line x1="514" y1="213.6" x2="482" y2="233"/>
<line x1="504.2" y1="245.3" x2="488" y2="258"/>
<line x1="522.4" y1="281.7" x2="541.4" y2="291.2"/>
<line x1="533.6" y1="319" x2="525" y2="324.2"/>
<line x1="543.5" y1="382.7" x2="530.8" y2="394.7"/>
<line x1="480.3" y1="480.4" x2="494.6" y2="480.4"/>
<line x1="401.1" y1="484.2" x2="404.4" y2="492.8"/>
<line x1="102" y1="300.5" x2="109.3" y2="320"/>
<line x1="165.3" y1="359" x2="179.2" y2="343.8"/>
<line x1="281.4" y1="336.1" x2="268.4" y2="345.2"/>
<line x1="106.5" y1="396.4" x2="117.6" y2="396.4"/>
<line x1="212.8" y1="464" x2="209.5" y2="455"/>
<line x1="198.4" y1="73.7" x2="209" y2="81.3"/>
<line x1="175" y1="145" x2="168" y2="140"/>
<line x1="532.2" y1="102.2" x2="529.7" y2="109.7"/>
<line x1="513" y1="172" x2="525.5" y2="172"/>
</g>
<g stroke="#666" stroke-width="0.8">
<line x1="427.3" y1="354.7" x2="444.4" y2="354.7"/>
<line x1="76.5" y1="542.1" x2="102" y2="542.1"/>
</g>
<!-- S / D badges -->
<g font-family="Liberation Sans" font-weight="bold" text-anchor="middle">
<circle cx="453.6" cy="228.8" r="4.6" fill="#d81e50"/><text x="453.6" y="231.6" font-size="7.5" style="fill:#fff;stroke:none">S</text>
<circle cx="481.5" cy="235.6" r="4.6" fill="#d81e50"/><text x="481.6" y="238.4" font-size="7.5" style="fill:#fff;stroke:none">D</text>
<circle cx="526" cy="344.4" r="4" fill="#d81e50"/><text x="526" y="346.9" font-size="6.8" style="fill:#fff;stroke:none">S</text>
</g>
</svg>
</body></html>
